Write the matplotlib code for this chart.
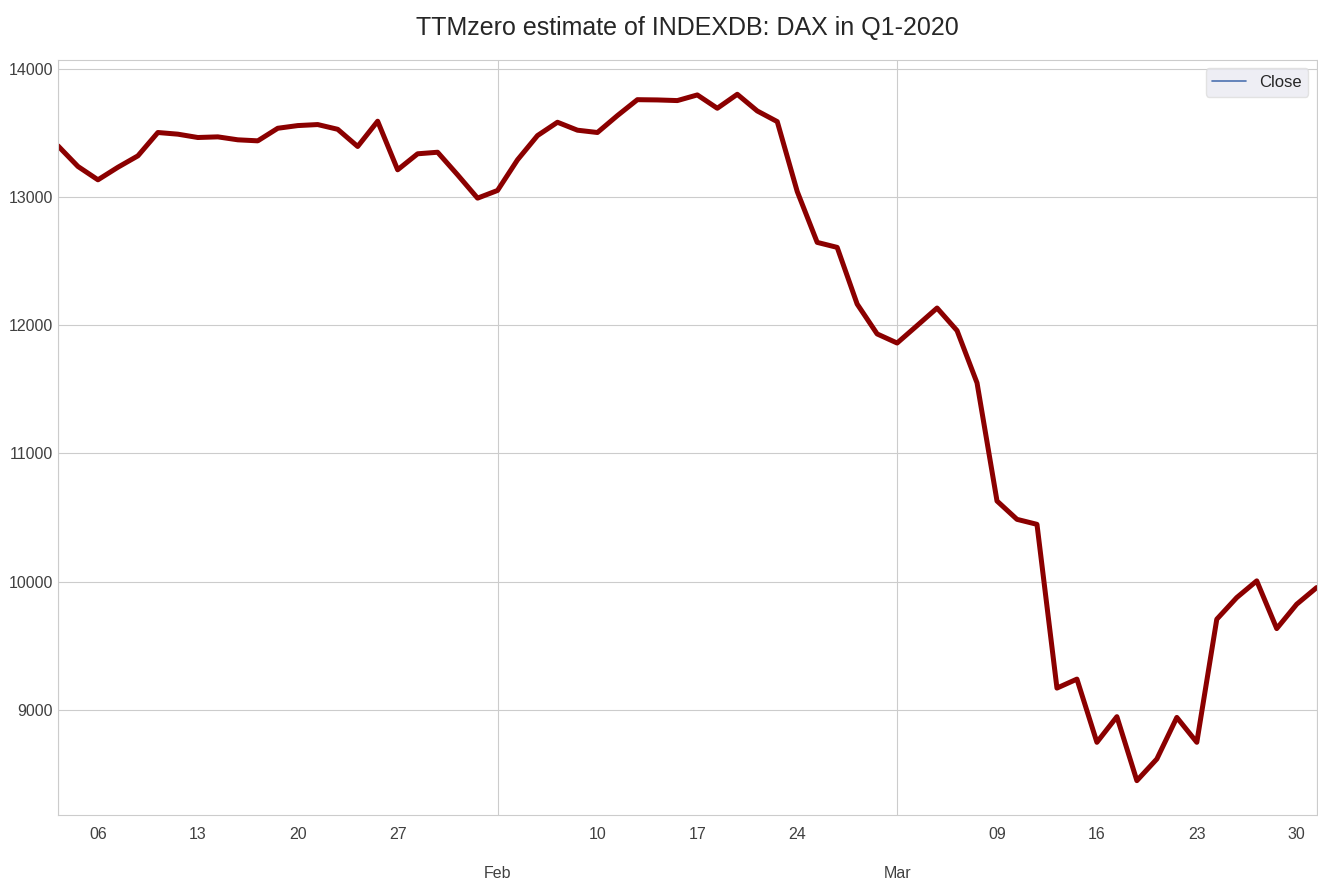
import numpy as np
import pandas as pd
import matplotlib
matplotlib.use("Agg")
import matplotlib.pyplot as plt
import seaborn as sns
from matplotlib.lines import Line2D

# Schätzwerte, Handelstage Q1-2020
jan = [13398, 13237, 13133, 13231, 13320, 13502, 13489, 13463, 13468, 13445,
       13437, 13535, 13556, 13564, 13527, 13393, 13590, 13211, 13336, 13348,
       13172, 12990]
feb = [13050, 13289, 13478, 13582, 13520, 13502, 13634, 13758, 13756, 13751,
       13795, 13691, 13800, 13670, 13587, 13042, 12645, 12606, 12164, 11931]
mar = [11860, 11996, 12133, 11957, 11549, 10628, 10485, 10446, 9169, 9239,
       8746, 8946, 8447, 8616, 8940, 8746, 9706, 9875, 10005, 9633,
       9823, 9953]

dates = pd.bdate_range("2020-01-02", "2020-03-31")
close = pd.Series(jan + feb + mar, index=dates, name="Close")

sns.set_style("whitegrid")
plt.rcParams["font.family"] = ["Liberation Sans", "DejaVu Sans"]

fig, ax = plt.subplots(figsize=(13.18, 8.82), dpi=100)
fig.subplots_adjust(left=0.044, right=0.999, top=0.932, bottom=0.076)

close.plot(ax=ax, color="darkred", lw=3.6, legend=False)

ax.set_title("TTMzero estimate of INDEXDB: DAX in Q1-2020", fontsize=18, pad=18, color=".15")
ax.set_xlabel("")
ax.tick_params(axis="both", which="both", labelsize=11.5, colors=".25", length=0)
ax.tick_params(axis="x", which="both", pad=9)

# Monatsbeschriftung ohne Jahreszahl (wie im Original)
fig.canvas.draw()
major_pos = ax.get_xticks()
major_lab = [t.get_text().replace("\n2020", "") for t in ax.get_xticklabels()]
ax.set_xticks(major_pos)
ax.set_xticklabels(major_lab, linespacing=1.35)

# Legende wie im Original (dünne blaue Linie)
handle = Line2D([], [], color="#4c72b0", lw=1.2)
ax.legend([handle], ["Close"], loc="upper right", fontsize=12, frameon=True,
          facecolor="#EAEAF2", edgecolor="#dddddd", borderaxespad=0.5)

plt.savefig("out.png", dpi=100)
